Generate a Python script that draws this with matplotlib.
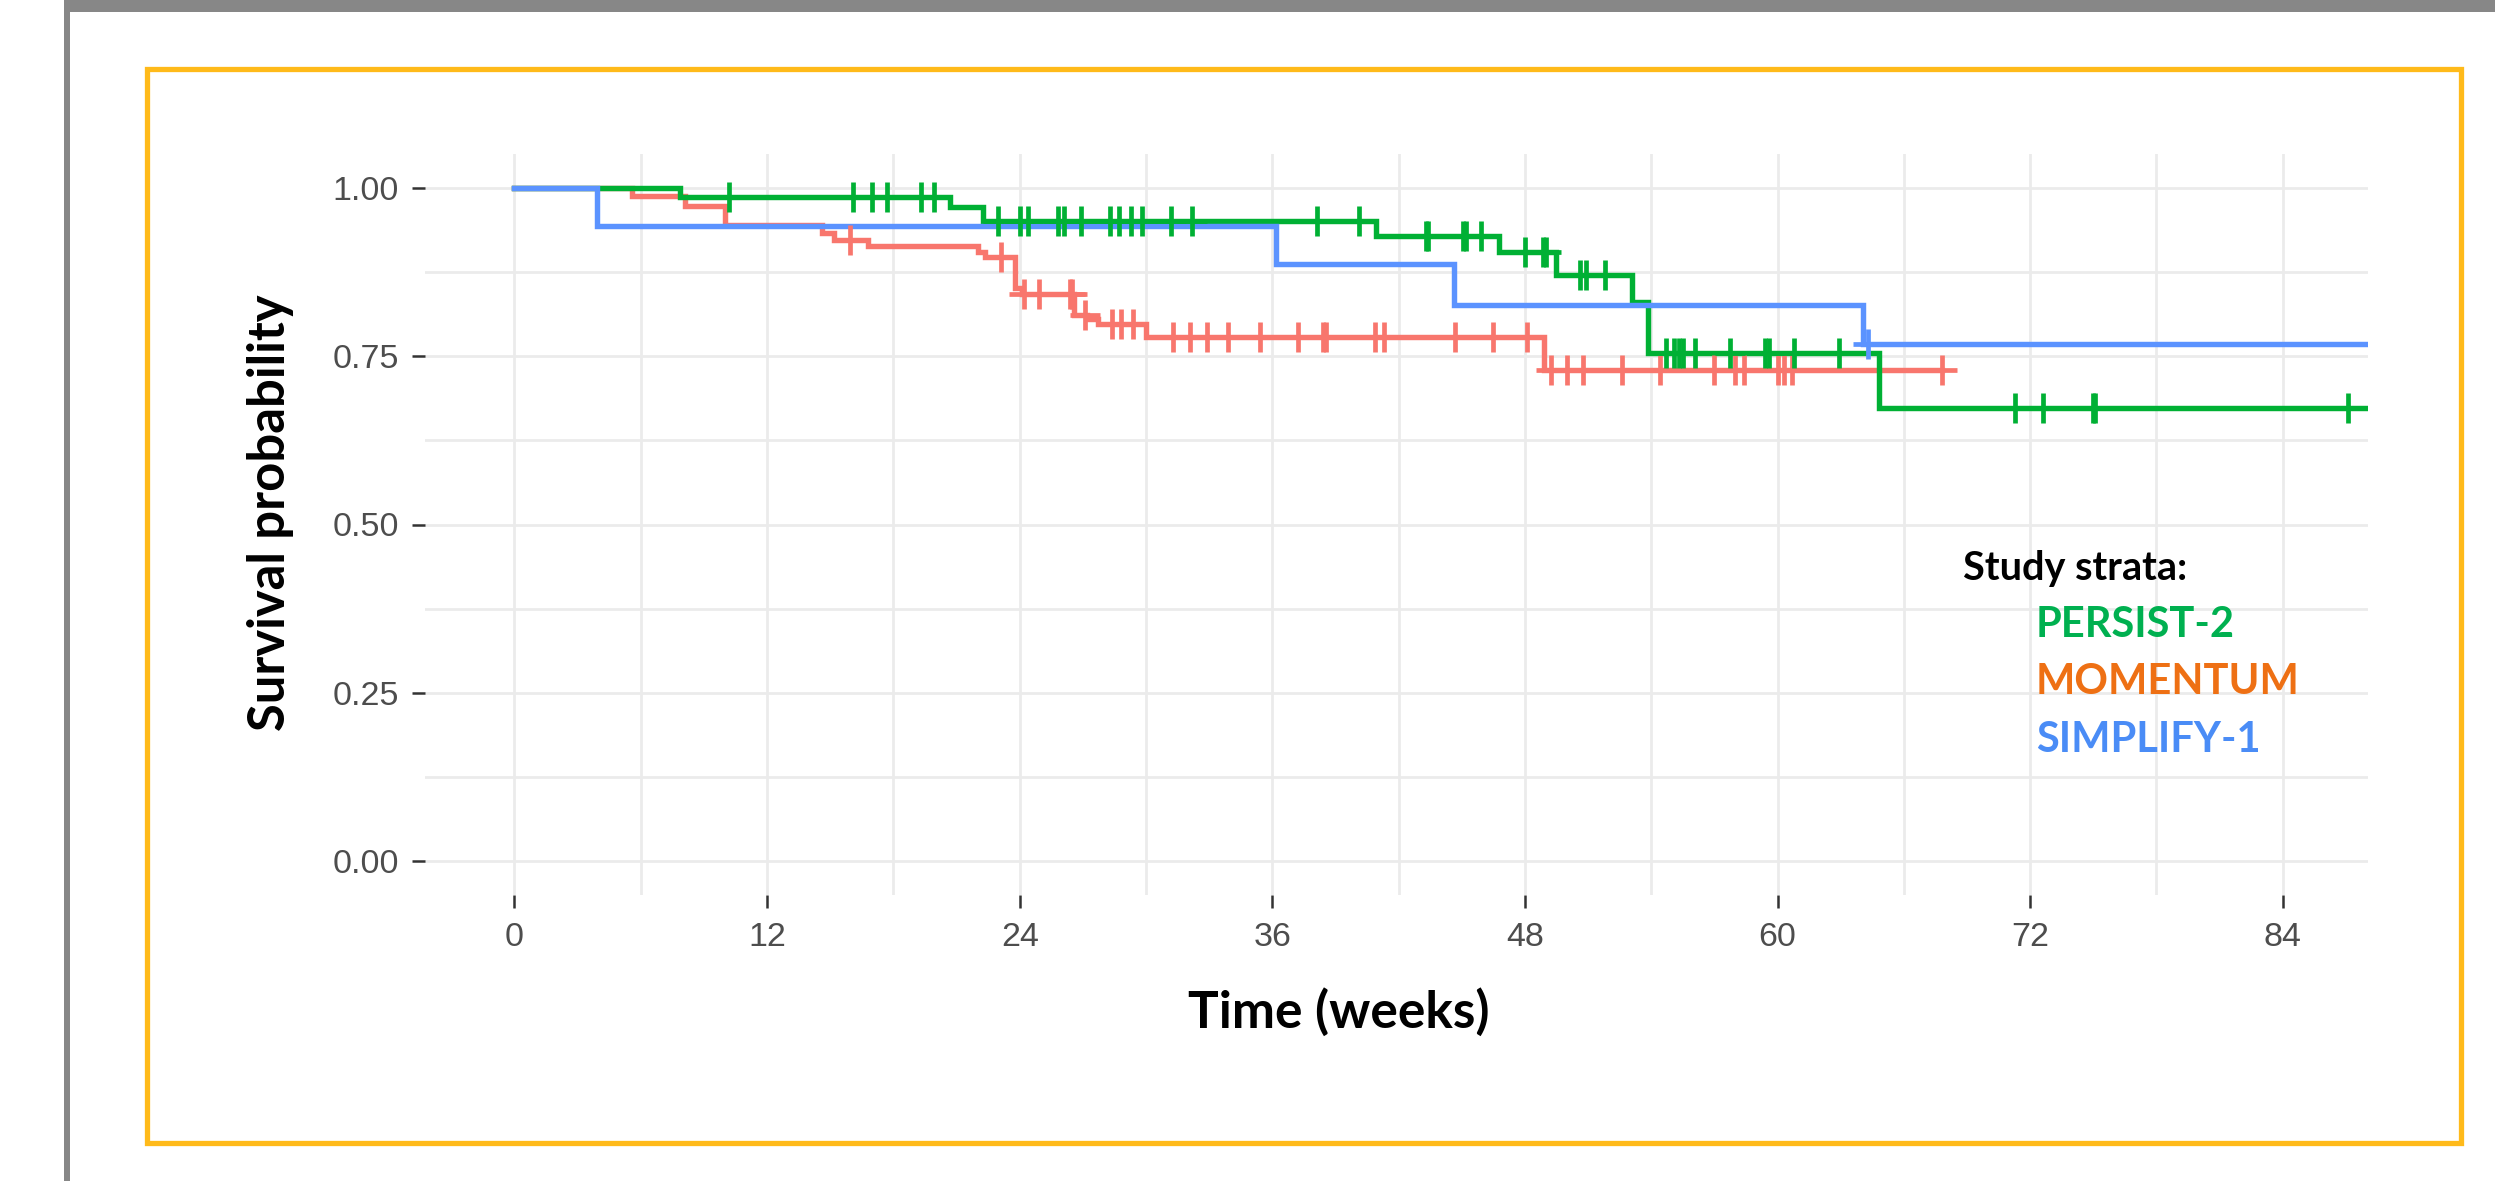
import matplotlib
matplotlib.use("Agg")
import matplotlib.pyplot as plt
import matplotlib.ticker as ticker
from matplotlib.patches import Rectangle
import numpy as np

# ── Data ──────────────────────────────────────────────────────────────────────
# MOMENTUM (red)
momentum_t = [0, 5.6, 8.1, 10.0, 14.6, 15.2, 16.8, 22.0, 22.35, 23.8, 24.1,
              26.6, 27.2, 27.7, 30.0, 48.9]
momentum_s = [1.0, 0.987, 0.973, 0.945, 0.933, 0.922, 0.913, 0.905, 0.897,
              0.851, 0.842, 0.811, 0.805, 0.797, 0.779, 0.730]
momentum_cens = [15.95, 23.1, 24.2, 24.9, 26.4, 26.5, 27.1, 28.4, 28.8, 29.4,
                 31.3, 32.1, 32.9, 33.9, 35.4, 37.2, 38.4, 38.55, 40.9, 41.3,
                 44.7, 46.5, 48.1, 49.25, 50.0, 50.75, 52.6, 54.4, 57.0, 58.0,
                 58.4, 60.0, 60.3, 60.7, 67.8]
momentum_end = 67.8

# PERSIST-2 (green)
persist_t = [0, 7.84, 20.67, 22.25, 40.93, 46.76, 49.49, 53.1, 53.84, 64.81]
persist_s = [1.0, 0.986, 0.971, 0.950, 0.928, 0.905, 0.871, 0.831, 0.755, 0.6725]
persist_cens = [10.2, 16.1, 17.0, 17.7, 19.3, 19.95, 22.96, 24.0, 24.4, 25.8,
                26.1, 26.9, 28.3, 28.7, 29.3, 29.8, 31.2, 32.2, 38.1, 40.1,
                43.3, 43.4, 45.05, 45.2, 45.9, 48.0, 48.85, 49.0, 50.6, 50.9,
                51.8, 54.7, 55.1, 55.3, 55.5, 56.1, 57.75, 59.4, 59.6, 60.8,
                62.9, 71.3, 72.6, 75.0, 75.1, 87.1]
persist_end = 92

# SIMPLIFY-1 (blue)
simplify_t = [0, 3.91, 36.18, 44.61, 64.05]
simplify_s = [1.0, 0.943, 0.886, 0.826, 0.768]
simplify_cens = [64.3]
simplify_end = 92

x_ticks = [0, 12, 24, 36, 48, 60, 72, 84]
y_ticks = [0.0, 0.25, 0.50, 0.75, 1.00]

legend_labels = ["PERSIST-2", "MOMENTUM", "SIMPLIFY-1"]
legend_colors = ["#00B050", "#EE7014", "#4A8CF6"]

curves = [
    (momentum_t, momentum_s, momentum_cens, momentum_end, "#F8766D"),
    (persist_t, persist_s, persist_cens, persist_end, "#00B034"),
    (simplify_t, simplify_s, simplify_cens, simplify_end, "#5B93FF"),
]

# ── Figure / frame ────────────────────────────────────────────────────────────
W, H = 2495, 1181
fig = plt.figure(figsize=(W / 100, H / 100), dpi=100)
fig.patch.set_facecolor("white")


def fxc(px):
    return px / W


def fyc(py):
    return 1 - py / H


# grey slide edge (top + left)
fig.add_artist(Rectangle((fxc(64), fyc(12)), 1 - fxc(64), 12 / H,
                         transform=fig.transFigure, color="#878787", lw=0))
fig.add_artist(Rectangle((fxc(64), 0), 6 / W, 1,
                         transform=fig.transFigure, color="#878787", lw=0))
# yellow box
fig.add_artist(Rectangle((fxc(146.5), fyc(1142.5)), (2460.5 - 146.5) / W,
                         (1142.5 - 68.5) / H, transform=fig.transFigure,
                         fill=False, edgecolor="#FFBA1A", lw=3.8))

# ── Plot panel ────────────────────────────────────────────────────────────────
ax = fig.add_axes([fxc(425), fyc(895), (2368 - 425) / W, (895 - 154) / H])
ax.set_xlim(-4.25, 88.05)
ax.set_ylim(-0.05, 1.05)

for t, s, cens, end, col in curves:
    tt = np.append(t, end)
    ss = np.append(s, s[-1])
    ax.step(tt, ss, where="post", color=col, lw=3.9, solid_joinstyle="miter",
            zorder=3)
for t, s, cens, end, col in curves:
    idx = np.searchsorted(t, cens, side="right") - 1
    ax.plot(cens, np.asarray(s)[idx], ls="none", marker="+", ms=22,
            mew=3.4, color=col, zorder=4)

ax.set_xticks(x_ticks)
ax.set_xticks(np.arange(6, 88, 12), minor=True)
ax.set_yticks(y_ticks)
ax.set_yticks([0.125, 0.375, 0.625, 0.875], minor=True)
ax.yaxis.set_major_formatter(ticker.FormatStrFormatter("%.2f"))

ax.grid(True, which="both", color="#EBEBEB", lw=2.0, zorder=0)
ax.set_axisbelow(True)
for sp in ax.spines.values():
    sp.set_visible(False)

ax.tick_params(which="major", length=9.6, width=1.8, color="#333333",
               labelcolor="#4D4D4D", labelsize=24.5)
ax.tick_params(which="minor", length=0)
ax.tick_params(axis="y", pad=9.0)
ax.tick_params(axis="x", pad=10)
for lab in ax.get_xticklabels() + ax.get_yticklabels():
    lab.set_family(["Liberation Sans", "DejaVu Sans"])

# ── Titles (text boxes on the slide) ──────────────────────────────────────────
title_font = ["Lato", "DejaVu Sans"]
fig.text(fxc(1339), fyc(1028), "Time (weeks)", ha="center", va="baseline",
         fontsize=37, fontweight="bold", family=title_font, color="black")
fig.text(fxc(271), fyc(513), "Survival probability", rotation=90,
         ha="center", va="center", fontsize=36.5, fontweight="bold",
         family=title_font, color="black")

fig.text(fxc(1963), fyc(580), "Study strata:", ha="left", va="baseline",
         fontsize=28.5, fontweight="bold", family=title_font, color="black")
for i, (lab, col) in enumerate(zip(legend_labels, legend_colors)):
    fig.text(fxc(2036), fyc(637 + i * 57.5), lab, ha="left", va="baseline",
             fontsize=30, fontweight="bold", family=title_font, color=col)

fig.savefig("out.png", dpi=100)
